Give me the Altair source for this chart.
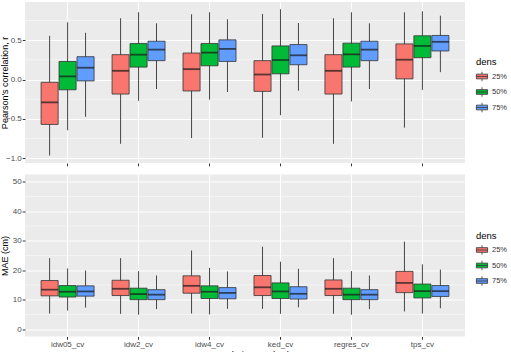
import altair as alt
import pandas as pd

methods = ["idw05_cv", "idw2_cv", "idw4_cv", "ked_cv", "regres_cv", "tps_cv"]
dens = ["25%", "50%", "75%"]
dens_colors = ["#F8766D", "#00BA38", "#619CFF"]

# Pearson's r box statistics, per method in the order 25%, 50%, 75%
r_low = [-0.965, -0.645, -0.474, -0.816, -0.27, -0.12, -0.744, -0.256, -0.158,
         -0.74, -0.453, -0.141, -0.816, -0.278, -0.12, -0.611, -0.132, 0.094]
r_q1 = [-0.57, -0.13, -0.017, -0.184, 0.158, 0.24, -0.145, 0.175, 0.23,
        -0.15, 0.073, 0.188, -0.184, 0.158, 0.24, 0.009, 0.278, 0.363]
r_med = [-0.29, 0.04, 0.15, 0.111, 0.316, 0.38, 0.132, 0.342, 0.389,
         0.064, 0.248, 0.308, 0.111, 0.32, 0.38, 0.252, 0.427, 0.479]
r_q3 = [-0.035, 0.23, 0.29, 0.316, 0.457, 0.487, 0.337, 0.457, 0.504,
        0.24, 0.427, 0.444, 0.316, 0.462, 0.487, 0.453, 0.556, 0.56]
r_high = [0.555, 0.727, 0.594, 0.778, 0.855, 0.714, 0.829, 0.855, 0.765,
          0.833, 0.893, 0.718, 0.778, 0.855, 0.714, 0.855, 0.867, 0.812]

# MAE (cm) box statistics, same order
mae_low = [5.3, 6.3, 7.3, 5.2, 4.9, 6.8, 5.3, 5.0, 6.9,
           6.9, 5.2, 7.4, 5.2, 4.9, 6.8, 6.0, 5.3, 7.1]
mae_q1 = [11.3, 10.9, 11.2, 11.4, 10.0, 10.0, 12.2, 10.4, 10.3,
          11.4, 10.4, 10.2, 11.4, 10.0, 10.0, 12.4, 10.6, 11.1]
mae_med = [13.4, 12.7, 12.8, 13.7, 11.9, 11.7, 14.7, 12.7, 12.3,
           14.2, 12.8, 12.0, 13.7, 11.7, 11.7, 15.7, 12.9, 12.9]
mae_q3 = [16.5, 14.8, 14.7, 16.6, 13.9, 13.4, 18.1, 14.7, 14.1,
          18.2, 15.7, 14.4, 16.7, 13.9, 13.4, 19.6, 15.3, 14.8]
mae_high = [24.1, 20.6, 19.9, 24.1, 19.7, 18.2, 26.7, 20.8, 19.6,
            28.0, 22.9, 20.5, 24.1, 19.7, 18.2, 29.7, 22.0, 20.2]

r_minor = [-0.75, -0.25, 0.25, 0.75]
mae_minor = [5, 15, 25, 35, 45]

FONT = "Liberation Sans"
W = 440


def frame(low, q1, med, q3, high):
    rows = []
    i = 0
    for m in methods:
        for d in dens:
            rows.append(dict(method=m, dens=d, low=low[i], q1=q1[i],
                             med=med[i], q3=q3[i], high=high[i]))
            i += 1
    return pd.DataFrame(rows)


def panel(df, minor, domain, ytitle, height, show_x, legend_y):
    x = alt.X("method:N", sort=methods,
              scale=alt.Scale(domain=methods, paddingInner=0, paddingOuter=0.1),
              axis=alt.Axis(title="Interpolation Method" if show_x else None,
                            labels=show_x, labelAngle=0, grid=True, bandPosition=0.5,
                            gridColor="white", gridWidth=1.1,
                            titleFontSize=9.5, titleColor="black",
                            titlePadding=1, labelPadding=1))
    xo = alt.XOffset("dens:N", sort=dens,
                     scale=alt.Scale(domain=dens, paddingOuter=0.5, paddingInner=0.05))
    yscale = alt.Scale(domain=domain, nice=False, zero=False)

    grid_minor = alt.Chart(pd.DataFrame({"v": minor})).mark_rule(
        color="white", strokeWidth=0.5
    ).encode(y=alt.Y("v:Q", scale=yscale, title=ytitle))

    whisk = alt.Chart(df).mark_rule(color="#333333", strokeWidth=0.9).encode(
        x=x, xOffset=xo,
        y=alt.Y("low:Q", scale=yscale, title=ytitle),
        y2="high:Q",
    )
    box = alt.Chart(df).mark_bar(stroke="#333333", strokeWidth=0.8).encode(
        x=x, xOffset=xo,
        y=alt.Y("q1:Q", scale=yscale, title=ytitle),
        y2="q3:Q",
        color=alt.Color(
            "dens:N", sort=dens,
            scale=alt.Scale(domain=dens, range=dens_colors),
            legend=alt.Legend(
                title="dens", orient="none", legendX=451, legendY=legend_y,
                symbolType="M-1,-0.42H1V0.42H-1Z M-1,0H1 M0,-0.42V-0.85 M0,0.42V0.85",
                symbolSize=125, symbolStrokeColor="#333333", symbolStrokeWidth=0.8,
                symbolOpacity=1, labelFontSize=7.5, labelColor="#333333",
                titleFontSize=9.5, titleFontWeight="normal", titleColor="black",
                titlePadding=4, rowPadding=1.5, labelOffset=4, labelFont=FONT,
                titleFont=FONT,
            ),
        ),
    )
    med = alt.Chart(df).mark_tick(color="#1a1a1a", thickness=1.8, size=17).encode(
        x=x, xOffset=xo,
        y=alt.Y("med:Q", scale=yscale, title=ytitle),
    )

    return alt.layer(grid_minor, whisk, box, med).properties(
        width=W, height=height
    )


r_df = frame(r_low, r_q1, r_med, r_q3, r_high)
mae_df = frame(mae_low, mae_q1, mae_med, mae_q3, mae_high)

top = panel(r_df, r_minor, [-1.06, 0.985], "Pearson's correlation, r", 161, False, 55)
bottom = panel(mae_df, mae_minor, [-2.5, 52.5], "MAE (cm)", 162, True, 56)

chart = alt.vconcat(top, bottom, spacing=7.5).resolve_scale(
    y="independent", color="independent"
).properties(
    padding={"left": 0, "top": 2, "right": 0, "bottom": 0}
).configure_view(
    fill="#EBEBEB", stroke=None
).configure_axis(
    labelFont=FONT, titleFont=FONT, labelFontSize=8, labelColor="#4D4D4D",
    tickColor="#333333", tickSize=2.75, domain=False,
    titleFontWeight="normal", titleFontSize=9.5, titleColor="black",
)
chart = chart.configure_axisY(
    gridColor="white", gridWidth=1.1, minExtent=16, maxExtent=16,
    titlePadding=0, labelPadding=1, tickCount=6, titleFontSize=9,
)

chart.save("out.html", embed_options={"renderer": "svg", "actions": False})
